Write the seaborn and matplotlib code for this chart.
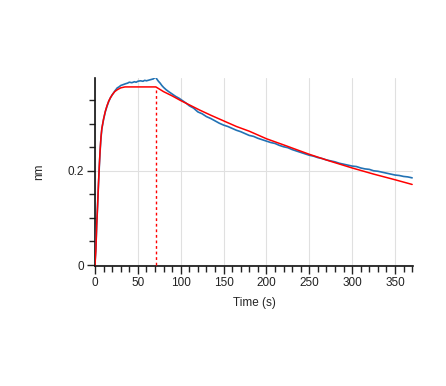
import numpy as np
import pandas as pd
import matplotlib
matplotlib.use("Agg")
import matplotlib.pyplot as plt
from matplotlib.ticker import MultipleLocator, FuncFormatter
import seaborn as sns

time_meas = [0, 0.5, 1, 1.5, 2, 3, 4, 5, 6, 7, 8, 10, 12, 14, 16, 18, 20, 23, 26, 28, 30, 33, 36, 38,
             40, 43, 46, 48, 50, 53, 56, 58, 60, 62, 64, 66, 68, 70, 71, 72, 74, 76, 78, 80, 83, 86,
             90, 94, 98, 102, 106, 110, 115, 120, 125, 130, 135, 140, 145, 150, 155, 160, 165, 170,
             175, 180, 185, 190, 195, 200, 205, 210, 215, 220, 225, 230, 235, 240, 245, 250, 255,
             260, 265, 270, 275, 280, 285, 290, 295, 300, 305, 310, 315, 320, 325, 330, 335, 340,
             345, 350, 355, 360, 365, 370]
resp_meas = [0.005, 0.02, 0.035, 0.06, 0.085, 0.125, 0.168, 0.208, 0.243, 0.270, 0.289, 0.309, 0.325,
             0.337, 0.347, 0.355, 0.361, 0.369, 0.376, 0.378, 0.381, 0.383, 0.385, 0.386, 0.388,
             0.387, 0.389, 0.388, 0.390, 0.391, 0.390, 0.392, 0.391, 0.392, 0.393, 0.394, 0.395,
             0.398, 0.399, 0.395, 0.390, 0.386, 0.381, 0.377, 0.372, 0.368, 0.363, 0.358, 0.354,
             0.349, 0.344, 0.338, 0.333, 0.325, 0.321, 0.315, 0.311, 0.306, 0.301, 0.297, 0.294,
             0.290, 0.286, 0.283, 0.279, 0.275, 0.273, 0.269, 0.266, 0.263, 0.260, 0.258, 0.254,
             0.251, 0.249, 0.245, 0.242, 0.239, 0.236, 0.233, 0.231, 0.228, 0.226, 0.223, 0.221,
             0.219, 0.216, 0.214, 0.212, 0.210, 0.209, 0.206, 0.204, 0.203, 0.200, 0.199, 0.197,
             0.195, 0.193, 0.191, 0.190, 0.188, 0.187, 0.185]

# fitted curve (red)
time_fit = [0, 1, 2, 3, 4, 5, 6, 7, 8, 10, 12, 14, 16, 18, 20, 23, 26, 30, 35, 40, 50, 60,
            71, 80, 90, 100, 110, 122, 135, 150, 165, 180, 200, 220, 250, 275, 300, 325, 350, 370]
resp_fit = [0.0, 0.03, 0.085, 0.125, 0.17, 0.21, 0.245, 0.272, 0.290, 0.310, 0.326, 0.338, 0.348,
            0.355, 0.361, 0.368, 0.372, 0.376, 0.378, 0.378, 0.378, 0.378, 0.378,
            0.368, 0.359, 0.349, 0.340, 0.329, 0.318, 0.306, 0.294, 0.284, 0.268, 0.255, 0.235,
            0.220, 0.206, 0.193, 0.181, 0.171]

# end of association phase
t_switch = 71
resp_switch = 0.378

sns.set_style("white")
plt.rcParams["font.family"] = ["Liberation Sans", "DejaVu Sans"]

fig = plt.figure(figsize=(4.46, 3.86), dpi=100)
ax = fig.add_axes([0.213, 0.311, 0.713, 0.487])

meas = pd.DataFrame({"t": time_meas, "nm": resp_meas})
fit = pd.DataFrame({"t": time_fit, "nm": resp_fit})

sns.lineplot(data=meas, x="t", y="nm", color="#2272b4", linewidth=1.2, ax=ax, zorder=3)
sns.lineplot(data=fit, x="t", y="nm", color="#ff0000", linewidth=1.1, ax=ax, zorder=4)
ax.plot([t_switch, t_switch], [0, resp_switch], color="#ff0000", linestyle=(0, (2, 2)),
        linewidth=1.0, zorder=4)

ax.set_xlim(0, 371)
ax.set_ylim(-0.002, 0.397)

ax.xaxis.set_major_locator(MultipleLocator(50))
ax.xaxis.set_minor_locator(MultipleLocator(10))
ax.yaxis.set_major_locator(MultipleLocator(0.2))
ax.yaxis.set_minor_locator(MultipleLocator(0.05))
ax.yaxis.set_major_formatter(FuncFormatter(lambda v, p: "%g" % round(v, 3)))

ax.tick_params(which="major", direction="out", length=6, width=1, colors="#222222",
               labelsize=8.5, bottom=True, left=True, pad=2)
ax.tick_params(which="minor", direction="out", length=4.5, width=1, colors="#222222",
               bottom=True, left=True)

ax.grid(True, which="major", color="#e0e0e0", linewidth=0.8)
ax.set_axisbelow(True)

for s in ["top", "right"]:
    ax.spines[s].set_visible(False)
for s in ["left", "bottom"]:
    ax.spines[s].set_color("#111111")
    ax.spines[s].set_linewidth(1.2)

ax.set_xlabel("Time (s)", fontsize=8.5, labelpad=6)
ax.set_ylabel("nm", fontsize=8.5, labelpad=16)

fig.savefig("out.png", dpi=100)
